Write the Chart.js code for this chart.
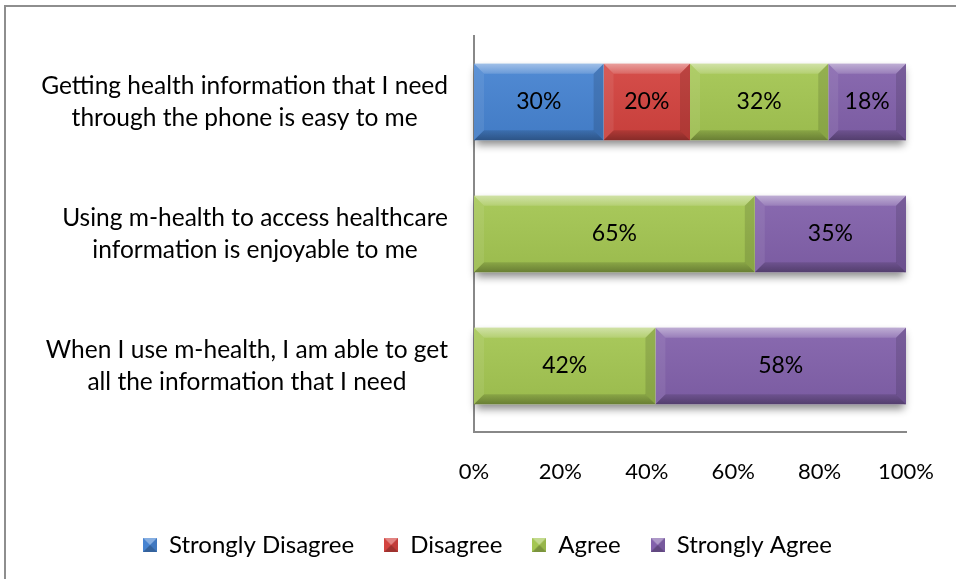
<!DOCTYPE html>
<html>
<head>
<meta charset="utf-8">
<script src="https://cdn.jsdelivr.net/npm/chart.js@4"></script>
<style>
  html, body { margin: 0; padding: 0; background: #fff; }
  #wrap { position: relative; width: 956px; height: 579px; overflow: hidden; }
  #frame { position: absolute; left: 4px; top: 5px; width: 1000px; height: 1000px;
           border: 2px solid #8e8e8e; box-sizing: border-box; }
  canvas { position: absolute; left: 0; top: 0; }
</style>
</head>
<body>
<div id="wrap">
  <div id="frame"></div>
  <canvas id="c" width="956" height="579"></canvas>
</div>
<script>
// Survey statements (two lines each) and the share of answers per level.
const categories = [
  ['Getting health information that I need', 'through the phone is easy to me'],
  ['Using m-health to access healthcare', 'information is enjoyable to me'],
  ['When I use m-health, I am able to get', 'all the information that I need']
];
const seriesNames = ['Strongly Disagree', 'Disagree', 'Agree', 'Strongly Agree'];
const stronglyDisagree = [30, null, null];
const disagree = [20, null, null];
const agree = [32, 65, 42];
const stronglyAgree = [18, 35, 58];
const xTickLabels = ['0%', '20%', '40%', '60%', '80%', '100%'];

const FONT = 'Lato, "Open Sans", sans-serif';
const faceColors = ['#4683d1', '#d3433f', '#a4c652', '#8261ab'];

// Small bevelled squares for the legend.
function makeMarker(color) {
  const s = 14, c = document.createElement('canvas');
  c.width = s; c.height = s;
  const g = c.getContext('2d');
  g.fillStyle = color; g.fillRect(0, 0, s, s);
  const h = s / 2;
  g.fillStyle = 'rgba(255,255,255,0.35)';
  g.beginPath(); g.moveTo(0, 0); g.lineTo(s, 0); g.lineTo(h, h); g.closePath(); g.fill();
  g.fillStyle = 'rgba(0,0,0,0.25)';
  g.beginPath(); g.moveTo(0, s); g.lineTo(s, s); g.lineTo(h, h); g.closePath(); g.fill();
  g.fillStyle = 'rgba(0,0,0,0.08)';
  g.beginPath(); g.moveTo(s, 0); g.lineTo(s, s); g.lineTo(h, h); g.closePath(); g.fill();
  return c;
}
const markers = faceColors.map(makeMarker);

// Soft drop shadow under each full bar.
const barShadow = {
  id: 'barShadow',
  beforeDatasetsDraw(chart) {
    const ctx = chart.ctx;
    const x = chart.scales.x;
    const meta = chart.getDatasetMeta(2);
    ctx.save();
    meta.data.forEach((el) => {
      const h = el.height;
      ctx.shadowColor = 'rgba(0,0,0,0.45)';
      ctx.shadowBlur = 8;
      ctx.shadowOffsetY = 5;
      ctx.fillStyle = '#ffffff';
      const l = x.getPixelForValue(0), r = x.getPixelForValue(100);
      ctx.fillRect(l + 2, el.y - h / 2, r - l - 4, h);
    });
    ctx.restore();
  }
};

// Bevel highlights on every bar segment, then the value labels.
const bevelAndLabels = {
  id: 'bevelAndLabels',
  afterDatasetsDraw(chart) {
    const ctx = chart.ctx;
    ctx.save();
    chart.data.datasets.forEach((ds, di) => {
      const meta = chart.getDatasetMeta(di);
      meta.data.forEach((el, i) => {
        const v = ds.data[i];
        if (v == null) return;
        const l = Math.min(el.x, el.base), r = Math.max(el.x, el.base);
        const t = el.y - el.height / 2, b = el.y + el.height / 2;
        const d = 10;
        const poly = (pts, fill) => {
          ctx.fillStyle = fill;
          ctx.beginPath();
          ctx.moveTo(pts[0][0], pts[0][1]);
          for (let k = 1; k < pts.length; k++) ctx.lineTo(pts[k][0], pts[k][1]);
          ctx.closePath(); ctx.fill();
        };
        const fg = ctx.createLinearGradient(0, t, 0, b);
        fg.addColorStop(0, 'rgba(255,255,255,0.06)');
        fg.addColorStop(1, 'rgba(0,0,0,0.06)');
        ctx.fillStyle = fg; ctx.fillRect(l, t, r - l, b - t);
        const tg = ctx.createLinearGradient(0, t, 0, t + d);
        tg.addColorStop(0, 'rgba(255,255,255,0.45)');
        tg.addColorStop(1, 'rgba(255,255,255,0.15)');
        poly([[l, t], [r, t], [r - d, t + d], [l + d, t + d]], tg);
        poly([[l, t], [l + d, t + d], [l + d, b - d], [l, b]], 'rgba(255,255,255,0.08)');
        poly([[r, t], [r, b], [r - d, b - d], [r - d, t + d]], 'rgba(0,0,0,0.12)');
        const bg = ctx.createLinearGradient(0, b - d, 0, b);
        bg.addColorStop(0, 'rgba(0,0,0,0.12)');
        bg.addColorStop(1, 'rgba(0,0,0,0.32)');
        poly([[l, b], [r, b], [r - d, b - d], [l + d, b - d]], bg);
        ctx.fillStyle = '#000';
        ctx.font = '23px ' + FONT;
        ctx.textAlign = 'center';
        ctx.textBaseline = 'middle';
        ctx.fillText(v + '%', (l + r) / 2, el.y);
      });
    });
    ctx.restore();
  }
};

// Category labels: each block centred, the widest line ending near the axis.
const categoryLabels = {
  id: 'categoryLabels',
  afterDraw(chart) {
    const ctx = chart.ctx, y = chart.scales.y;
    ctx.save();
    ctx.font = '24.5px ' + FONT;
    ctx.fillStyle = '#000';
    ctx.textAlign = 'center';
    ctx.textBaseline = 'middle';
    const right = y.right - 26;
    categories.forEach((lines, i) => {
      const w = Math.max(...lines.map(s => ctx.measureText(s).width));
      const cx = right - w / 2;
      const cy = y.getPixelForValue(i);
      const lh = 32;
      lines.forEach((s, k) => {
        ctx.fillText(s, cx, cy + (k - (lines.length - 1) / 2) * lh);
      });
    });
    ctx.restore();
  }
};

const seriesData = [stronglyDisagree, disagree, agree, stronglyAgree];

new Chart(document.getElementById('c'), {
  type: 'bar',
  data: {
    labels: categories.map(c => c.join(' ')),
    datasets: seriesNames.map((name, i) => ({
      label: name,
      data: seriesData[i],
      backgroundColor: faceColors[i],
      borderWidth: 0,
      barPercentage: 0.58,
      categoryPercentage: 1
    }))
  },
  options: {
    indexAxis: 'y',
    responsive: false,
    animation: false,
    devicePixelRatio: 1,
    layout: { padding: { top: 36, right: 50, left: 69, bottom: 12 } },
    scales: {
      x: {
        stacked: true, min: 0, max: 100,
        grid: { display: false, drawTicks: true, tickLength: 27 },
        border: { display: true, color: '#888888', width: 2 },
        ticks: {
          stepSize: 20, padding: 0, color: '#000',
          font: { family: FONT, size: 22 },
          callback: (v, i) => xTickLabels[i]
        },
        afterFit: (s) => { s.height = 71; }
      },
      y: {
        stacked: true,
        grid: { display: false, drawTicks: false },
        border: { display: true, color: '#888888', width: 2 },
        ticks: { display: false },
        afterFit: (s) => { s.width = 405; }
      }
    },
    plugins: {
      tooltip: { enabled: false },
      legend: {
        position: 'bottom',
        labels: {
          usePointStyle: true,
          boxWidth: 14,
          padding: 30,
          color: '#000',
          font: { family: FONT, size: 24 },
          generateLabels: () => seriesNames.map((name, i) => ({
            text: name,
            pointStyle: markers[i],
            fillStyle: faceColors[i],
            strokeStyle: faceColors[i],
            lineWidth: 0,
            hidden: false,
            datasetIndex: i
          }))
        }
      }
    }
  },
  plugins: [barShadow, bevelAndLabels, categoryLabels]
});
</script>
</body>
</html>
